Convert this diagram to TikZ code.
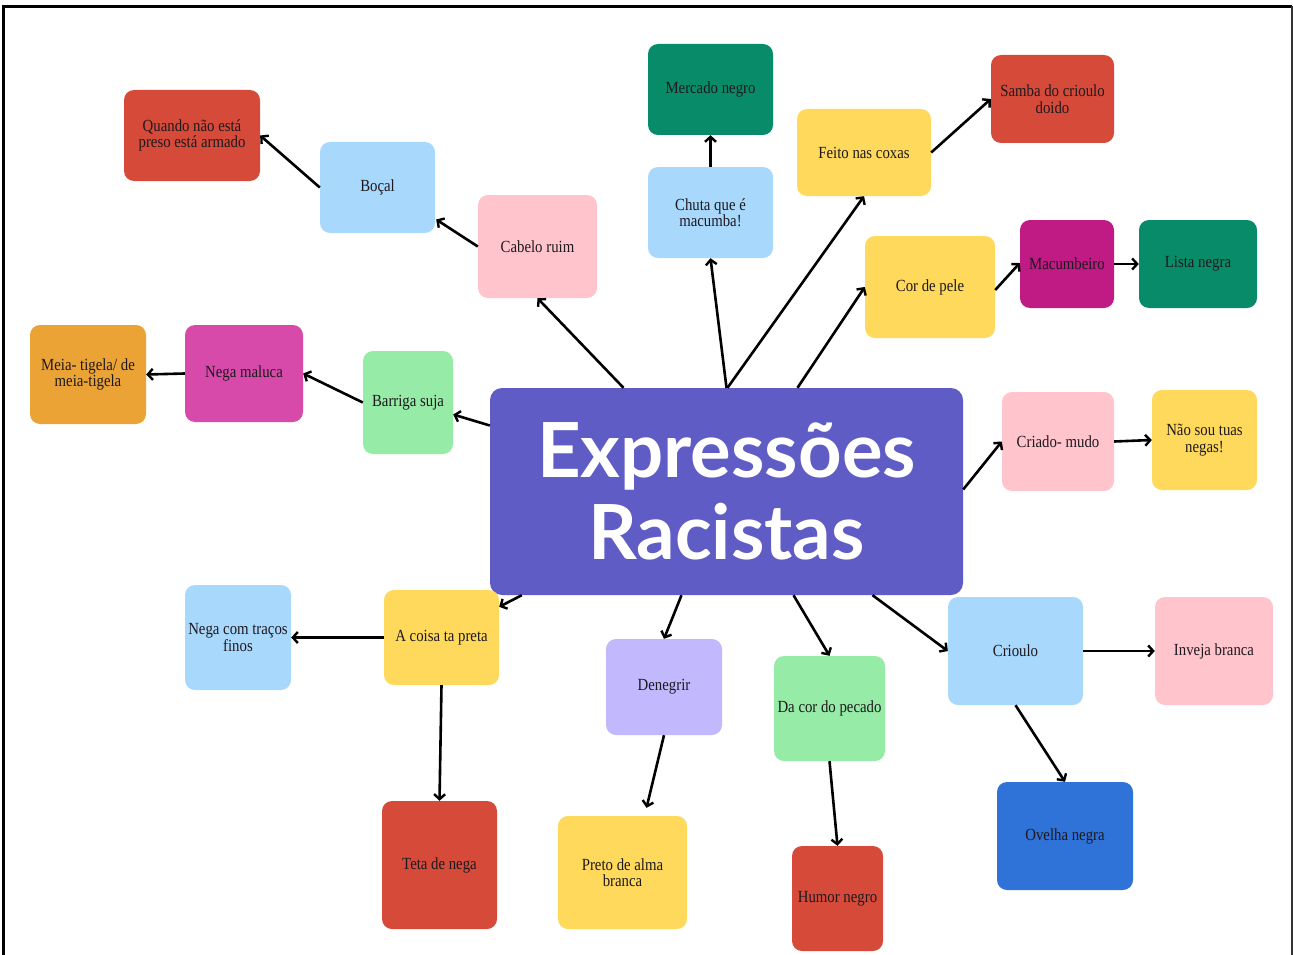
\documentclass[tikz,border=0pt]{standalone}
\usepackage{fontspec}
\setmainfont{Liberation Serif}[FakeStretch=0.87]
\newfontfamily\titlefont{Lato}
\usetikzlibrary{arrows.meta,calc}
\definecolor{cRed}{RGB}{214,74,58}
\definecolor{cLBlue}{RGB}{168,216,252}
\definecolor{cPink}{RGB}{255,196,204}
\definecolor{cGreen}{RGB}{8,139,105}
\definecolor{cYellow}{RGB}{254,217,92}
\definecolor{cMagenta}{RGB}{192,26,132}
\definecolor{cOrange}{RGB}{236,163,53}
\definecolor{cPinkMag}{RGB}{215,74,170}
\definecolor{cLGreen}{RGB}{150,235,166}
\definecolor{cLav}{RGB}{193,184,254}
\definecolor{cBlue}{RGB}{47,115,216}
\definecolor{cCentral}{RGB}{95,93,197}
\definecolor{cText}{RGB}{30,25,30}
\tikzset{
  box/.style={rounded corners=10pt, inner sep=0pt, align=center, text=cText,
    font=\fontsize{17}{16.5}\selectfont},
  conn/.style={line width=2.6pt, -{Straight Barb[length=5pt,width=11pt,line width=2.4pt]}},
}
\newcommand{\bx}[7]{\node[box, fill=#6, minimum width=#4pt, minimum height=#5pt] (#1) at (#2,#3) {#7};}
\begin{document}
\begin{tikzpicture}[x=1pt,y=-1pt]
\useasboundingbox (0,0) rectangle (1293,955);
\fill[white] (0,0) rectangle (1293,955);
\draw[line width=3pt] (3,955) -- (3,6.5) -- (1291.5,6.5);
\draw[line width=2pt, black!80] (1291.5,6.5) -- (1291.5,955);
% central
\node[rounded corners=12pt, fill=cCentral, minimum width=473pt, minimum height=207pt, align=center, text=white,
  font=\titlefont\bfseries\fontsize{76}{82}\selectfont] (c) at (726.5,491.5) {Expressões\\Racistas};
% nodes
\bx{quando}{192}{135.5}{136}{91}{cRed}{Quando não está\\preso está armado}
\bx{boc}{377.5}{187.5}{115}{91}{cLBlue}{Boçal}
\bx{cab}{537.5}{246.5}{119}{103}{cPink}{Cabelo ruim}
\bx{merc}{710.5}{89.5}{125}{91}{cGreen}{Mercado negro}
\bx{chuta}{710.5}{212.5}{125}{91}{cLBlue}{Chuta que é\\macumba!}
\bx{feito}{864}{152.5}{134}{87}{cYellow}{Feito nas coxas}
\bx{samba}{1052.5}{99}{123}{88}{cRed}{Samba do crioulo\\doido}
\bx{cor}{930}{287}{130}{102}{cYellow}{Cor de pele}
\bx{mac}{1067}{264}{94}{88}{cMagenta}{Macumbeiro}
\bx{lista}{1198}{264}{118}{88}{cGreen}{Lista negra}
\bx{meia}{88}{374.5}{116}{99}{cOrange}{Meia- tigela/ de\\meia-tigela}
\bx{nm}{244}{373.5}{118}{97}{cPinkMag}{Nega maluca}
\bx{bar}{408}{402.5}{90}{103}{cLGreen}{Barriga suja}
\bx{cri}{1058}{441.5}{112}{99}{cPink}{Criado- mudo}
\bx{nao}{1204.5}{440}{105}{100}{cYellow}{Não sou tuas\\negas!}
\bx{nc}{238}{637.5}{106}{105}{cLBlue}{Nega com traços\\finos}
\bx{ac}{441.5}{637.5}{115}{95}{cYellow}{A coisa ta preta}
\bx{teta}{439.5}{865}{115}{128}{cRed}{Teta de nega}
\bx{den}{664}{687}{116}{96}{cLav}{Denegrir}
\bx{preto}{622.5}{872.5}{129}{113}{cYellow}{Preto de alma\\branca}
\bx{dacor}{829.5}{708.5}{111}{105}{cLGreen}{Da cor do pecado}
\bx{humor}{837.5}{898.5}{91}{105}{cRed}{Humor negro}
\bx{crioulo}{1015.5}{651}{135}{108}{cLBlue}{Crioulo}
\bx{inveja}{1214}{651}{118}{108}{cPink}{Inveja branca}
\bx{ovelha}{1065}{836}{136}{108}{cBlue}{Ovelha negra}
% connectors
\draw[conn] (boc.west) -- (quando.east);
\draw[conn] (cab.west) -- ($(boc.east)+(1,32)$);
\draw[conn] ($(c.north)+(-103,0)$) -- (cab.south);
\draw[conn] (c.north) -- (chuta.south);
\draw[conn] (chuta.north) -- (merc.south);
\draw[conn] ($(c.north)+(1,0)$) -- (feito.south);
\draw[conn] (feito.east) -- (samba.west);
\draw[conn] ($(c.north)+(71,0)$) -- (cor.west);
\draw[conn] ($(cor.east)+(0,3)$) -- ($(mac.west)+(0,-1)$);
\draw[conn] (mac.east) -- (lista.west);
\draw[conn] ($(c.west)+(0,-66)$) -- ($(bar.east)+(0,12)$);
\draw[conn] (bar.west) -- (nm.east);
\draw[conn] (nm.west) -- (meia.east);
\draw[conn] ($(c.east)+(0,-2)$) -- (cri.west);
\draw[conn] (cri.east) -- (nao.west);
\draw[conn] ($(c.south west)+(32,0)$) -- ($(ac.north east)+(0,17)$);
\draw[conn] (ac.west) -- (nc.east);
\draw[conn] (ac.south) -- (teta.north);
\draw[conn] ($(c.south)+(-45,0)$) -- (den.north);
\draw[conn] (den.south) -- ($(preto.north)+(24,-8)$);
\draw[conn] ($(c.south)+(67,0)$) -- (dacor.north);
\draw[conn] (dacor.south) -- (humor.north);
\draw[conn] ($(c.south)+(146,0)$) -- (crioulo.west);
\draw[conn] (crioulo.east) -- (inveja.west);
\draw[conn] (crioulo.south) -- (ovelha.north);
\end{tikzpicture}
\end{document}
